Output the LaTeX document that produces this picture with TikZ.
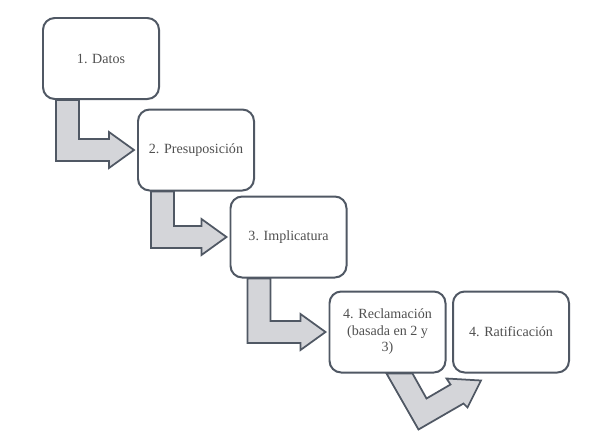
\documentclass[tikz,border=0pt]{standalone}
\usepackage{fontspec}
\setmainfont{Liberation Serif}
\usetikzlibrary{positioning,calc,backgrounds}
\definecolor{boxgray}{RGB}{80,88,100}
\definecolor{arrowfill}{RGB}{212,213,217}
\definecolor{textgray}{RGB}{80,80,80}

\begin{document}
\begin{tikzpicture}[x=0.03cm,y=-0.03cm,
  stepbox/.style={draw=boxgray, line width=1.7pt, fill=white, rounded corners=10pt,
    minimum width=3.48cm, minimum height=2.43cm, align=center, text=textgray,
    font=\fontsize{12}{14}\selectfont},
  bentarrow/.style={draw=boxgray, line width=1.5pt, fill=arrowfill, line join=miter}]
\useasboundingbox (0,0) rectangle (590,437);

% Steps
\node[stepbox] (datos) at (101,58.5) {1. Datos};
\node[stepbox] (presup) at (196,150) {2. Presuposición};
\node[stepbox] (implic) at (288.5,237) {3. Implicatura};
\node[stepbox] (reclam) at (387.5,332) {4. Reclamación\\(basada en 2 y\\3)};
\node[stepbox] (ratif) at (511,332) {4. Ratificación};

\begin{scope}[on background layer]
% Arrow 1 -> 2
\coordinate (a1) at ($(datos.south west)+(14,0)$);
\coordinate (b1) at ($(presup.west)+(-3,0)$);
\coordinate (c1) at ($(b1)+(-25,11)$);
\draw[bentarrow] (a1) -- ++(23,0) |- ($(b1)+(-25,-11)$) -- ++(0,-7) -- (b1)
  -- ++(-25,18) -- (c1) -- (a1 |- c1) -- cycle;

% Arrow 2 -> 3
\coordinate (a2) at ($(presup.south west)+(14,0)$);
\coordinate (b2) at ($(implic.west)+(-3,0)$);
\coordinate (c2) at ($(b2)+(-25,11)$);
\draw[bentarrow] (a2) -- ++(23,0) |- ($(b2)+(-25,-11)$) -- ++(0,-7) -- (b2)
  -- ++(-25,18) -- (c2) -- (a2 |- c2) -- cycle;

% Arrow 3 -> 4
\coordinate (a3) at ($(implic.south west)+(18,0)$);
\coordinate (b3) at ($(reclam.west)+(-3,0)$);
\coordinate (c3) at ($(b3)+(-25,11)$);
\draw[bentarrow] (a3) -- ++(23,0) |- ($(b3)+(-25,-11)$) -- ++(0,-7) -- (b3)
  -- ++(-25,18) -- (c3) -- (a3 |- c3) -- cycle;

% Arrow 4 -> 5
\coordinate (a4) at (reclam.south west);
\draw[bentarrow] ($(a4)+(58,0)$) -- ($(a4)+(84,0)$) -- ($(a4)+(98,25)$)
  -- ($(a4)+(122,11)$) -- ($(a4)+(118,5)$) -- ($(ratif.south west)+(29,7)$)
  -- ($(a4)+(139,34)$) -- ($(a4)+(135,30)$) -- ($(a4)+(90,56)$) -- cycle;
\end{scope}
\end{tikzpicture}
\end{document}
